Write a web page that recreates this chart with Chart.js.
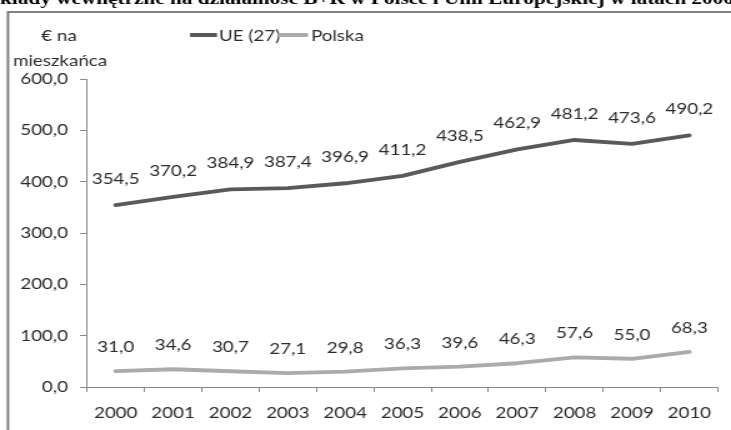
<!DOCTYPE html>
<html><head><meta charset="utf-8">
<script src="https://cdn.jsdelivr.net/npm/chart.js@4"></script>
<style>html,body{margin:0;padding:0;background:#fff;overflow:hidden}canvas{display:block}</style>
</head><body>
<canvas id="c" width="585" height="430" style="width:731px;height:430px"></canvas>
<script>
// ---- data ----
const years = ['2000','2001','2002','2003','2004','2005','2006','2007','2008','2009','2010'];
const ueValues = [354.5, 370.2, 384.9, 387.4, 396.9, 411.2, 438.5, 462.9, 481.2, 473.6, 490.2];
const plValues = [31.0, 34.6, 30.7, 27.1, 29.8, 36.3, 39.6, 46.3, 57.6, 55.0, 68.3];
const seriesNames = ['UE (27)', 'Polska'];
const yMin = 0, yMax = 600, yStep = 100;
const yAxisTitle = ['€ na', 'mieszkańca'];
const titleText = 'Nakłady wewnętrzne na działalność B+R w Polsce i Unii Europejskiej w latach 2000–2010';

// ---- layout helpers (canvas is stretched horizontally to 731px) ----
const SX = 585 / 731;
const lx = px => px * SX;
const textColor = '#2b2b2b';
const axisColor = '#8a8a8a';
const FONT = 'Lato';
const fmt = v => v.toFixed(1).replace('.', ',');

const deco = {
  id: 'deco',
  beforeDraw(chart) {
    const ctx = chart.ctx;
    ctx.save();
    ctx.fillStyle = '#fff';
    ctx.fillRect(0, 0, chart.width, chart.height);
    // clipped heading
    ctx.fillStyle = '#000';
    ctx.font = 'bold 17px "Liberation Serif"';
    ctx.textAlign = 'left';
    ctx.textBaseline = 'alphabetic';
    const pre = ctx.measureText('Na').width;
    ctx.fillText(titleText, -pre, 4);
    // frame
    ctx.strokeStyle = '#808080';
    ctx.lineWidth = 2;
    ctx.beginPath();
    ctx.moveTo(lx(8), chart.height + 2);
    ctx.lineTo(lx(8), 12);
    ctx.lineTo(chart.width + 2, 12);
    ctx.stroke();
    // y axis title
    ctx.fillStyle = textColor;
    ctx.font = '15px ' + FONT;
    ctx.textAlign = 'center';
    ctx.textBaseline = 'middle';
    ctx.fillText(yAxisTitle[0], lx(59), 36);
    ctx.fillText(yAxisTitle[1], lx(60), 61);
    ctx.restore();
  },
  afterDatasetsDraw(chart) {
    const ctx = chart.ctx;
    const offs = [26, 24];
    ctx.save();
    ctx.fillStyle = textColor;
    ctx.font = '15px ' + FONT;
    ctx.textAlign = 'center';
    ctx.textBaseline = 'middle';
    chart.data.datasets.forEach((ds, i) => {
      const meta = chart.getDatasetMeta(i);
      meta.data.forEach((pt, j) => {
        ctx.fillText(fmt(ds.data[j]), pt.x, pt.y - offs[i]);
      });
    });
    ctx.restore();
  },
  afterDraw(chart) {
    const ctx = chart.ctx;
    const pos = [{x0: lx(190), x1: lx(217), tx: lx(219)}, {x0: lx(278), x1: lx(308), tx: lx(311)}];
    ctx.save();
    ctx.font = '15px ' + FONT;
    ctx.textAlign = 'left';
    ctx.textBaseline = 'middle';
    chart.data.datasets.forEach((ds, i) => {
      const p = pos[i];
      ctx.strokeStyle = ds.borderColor;
      ctx.lineWidth = 4;
      ctx.lineCap = 'butt';
      ctx.beginPath();
      ctx.moveTo(p.x0, 35);
      ctx.lineTo(p.x1, 35);
      ctx.stroke();
      ctx.fillStyle = textColor;
      ctx.fillText(ds.label, p.tx, 36);
    });
    ctx.restore();
  }
};

new Chart(document.getElementById('c'), {
  type: 'line',
  data: {
    labels: years,
    datasets: [
      {label: seriesNames[0], data: ueValues, borderColor: '#595959', borderWidth: 3.8, pointRadius: 0, tension: 0, borderCapStyle: 'round', borderJoinStyle: 'round'},
      {label: seriesNames[1], data: plValues, borderColor: '#ababab', borderWidth: 3.8, pointRadius: 0, tension: 0, borderCapStyle: 'round', borderJoinStyle: 'round'}
    ]
  },
  options: {
    responsive: false,
    animation: false,
    devicePixelRatio: 1,
    layout: {padding: {left: 0, right: lx(731 - 718), top: 79, bottom: 0}},
    plugins: {legend: {display: false}, title: {display: false}, tooltip: {enabled: false}},
    scales: {
      x: {
        offset: true,
        grid: {offset: true, drawOnChartArea: false, color: axisColor, tickLength: 5, lineWidth: 1},
        border: {color: axisColor, width: 1},
        ticks: {color: textColor, font: {family: FONT, size: 15}, padding: 12, maxRotation: 0, autoSkip: false},
        afterFit: s => { s.height = 430 - 387; }
      },
      y: {
        min: yMin, max: yMax,
        grid: {drawOnChartArea: false, color: axisColor, tickLength: lx(7), lineWidth: 1},
        border: {color: axisColor, width: 1},
        ticks: {stepSize: yStep, color: textColor, font: {family: FONT, size: 15}, padding: lx(12), callback: v => fmt(v)},
        afterFit: s => { s.width = lx(87); }
      }
    }
  },
  plugins: [deco]
});
</script>
</body></html>
